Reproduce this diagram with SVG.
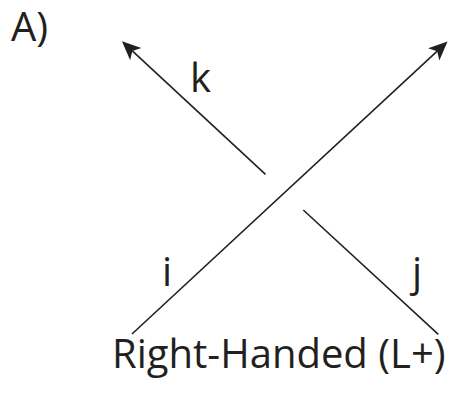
<svg xmlns="http://www.w3.org/2000/svg" width="451" height="393" viewBox="0 0 451 393">
<style>
.t{font-family:"Open Sans","Liberation Sans",sans-serif;fill:#231f20;font-size:40px}
.ln{stroke:#231f20;stroke-width:1.6;fill:none}
</style>
<defs>
<marker id="ah" markerUnits="userSpaceOnUse" markerWidth="20" markerHeight="20" refX="4" refY="0" viewBox="0 -8 17 16" orient="auto" overflow="visible">
<path d="M16,0 L0,-7 L4,0 L0,7 Z" fill="#231f20"/>
</marker>
</defs>
<rect width="451" height="393" fill="#fff"/>
<g id="connectors">
<line id="strand-i" class="ln" x1="132" y1="334" x2="437.2" y2="51.2" marker-end="url(#ah)"/>
<line id="strand-k" class="ln" x1="265.5" y1="174.3" x2="132.3" y2="50.9" marker-end="url(#ah)"/>
<line id="strand-j" class="ln" x1="303.3" y1="210" x2="438.3" y2="334.3"/>
</g>
<g id="label-A"><text class="t" x="11" y="41" font-size="41">A)</text></g>
<g id="label-k"><text class="t" x="190" y="92">k</text></g>
<g id="label-i"><text class="t" x="162" y="286">i</text></g>
<g id="label-j"><text class="t" x="412" y="286">j</text></g>
<g id="caption"><text class="t" x="112" y="368" font-size="40.6">Right-Handed (L+)</text></g>
</svg>
